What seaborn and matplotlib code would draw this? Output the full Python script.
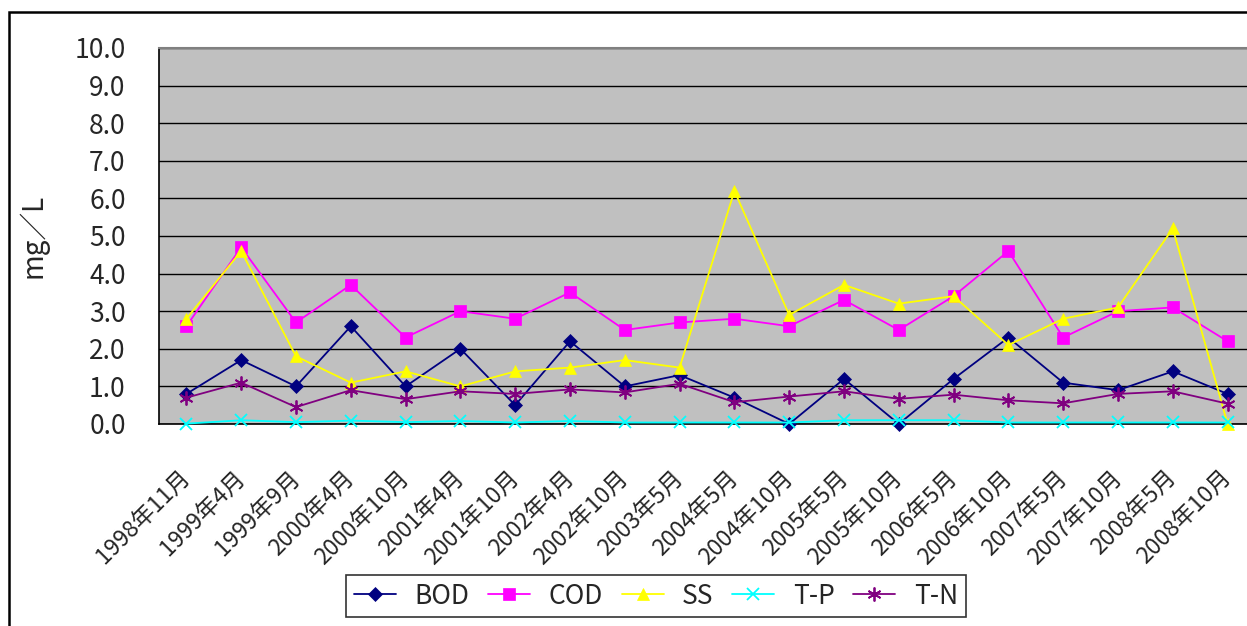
import numpy as np
import pandas as pd
import matplotlib
matplotlib.use("Agg")
import matplotlib.pyplot as plt
import matplotlib.transforms as mtransforms
import seaborn as sns
from matplotlib.patches import Rectangle

categories = ["1998年11月", "1999年4月", "1999年9月", "2000年4月", "2000年10月",
              "2001年4月", "2001年10月", "2002年4月", "2002年10月", "2003年5月",
              "2004年5月", "2004年10月", "2005年5月", "2005年10月", "2006年5月",
              "2006年10月", "2007年5月", "2007年10月", "2008年5月", "2008年10月"]

bod = [0.8, 1.7, 1.0, 2.6, 1.0, 2.0, 0.5, 2.2, 1.0, 1.3,
       0.7, 0.0, 1.2, 0.0, 1.2, 2.3, 1.1, 0.9, 1.4, 0.8]
cod = [2.6, 4.7, 2.7, 3.7, 2.3, 3.0, 2.8, 3.5, 2.5, 2.7,
       2.8, 2.6, 3.3, 2.5, 3.4, 4.6, 2.3, 3.0, 3.1, 2.2]
ss = [2.8, 4.6, 1.8, 1.1, 1.4, 1.0, 1.4, 1.5, 1.7, 1.5,
      6.2, 2.9, 3.7, 3.2, 3.4, 2.1, 2.8, 3.1, 5.2, 0.0]
tp = [0.01, 0.1, 0.05, 0.09, 0.05, 0.08, 0.04, 0.08, 0.04, 0.04,
      0.04, 0.04, 0.1, 0.1, 0.1, 0.04, 0.04, 0.04, 0.04, 0.04]
tn = [0.7, 1.1, 0.45, 0.9, 0.66, 0.87, 0.8, 0.92, 0.84, 1.07,
      0.58, 0.73, 0.87, 0.67, 0.78, 0.63, 0.55, 0.8, 0.87, 0.54]

series_names = ["BOD", "COD", "SS", "T-P", "T-N"]
series_values = [bod, cod, ss, tp, tn]
colors = ["#000080", "#FF00FF", "#FFFF00", "#00FFFF", "#800080"]
markers = ["D", "s", "^", "x", (6, 2, 0)]
msizes = [7, 9, 9, 9, 10]

sns.set_theme(style="white")
plt.rcParams['font.family'] = ['Noto Sans CJK JP', 'DejaVu Sans']

W, H = 1247, 626
fig = plt.figure(figsize=(W / 100, H / 100), dpi=100)
ax = fig.add_axes([159 / W, 1 - 424 / H, (1255 - 159) / W, (424 - 48) / H])
ax.set_facecolor("#C0C0C0")

x = np.arange(len(categories))
for name, vals, c, m, ms in zip(series_names, series_values, colors, markers, msizes):
    df = pd.DataFrame({"x": x, "y": vals})
    sns.lineplot(data=df, x="x", y="y", ax=ax, color=c, marker=m, markersize=ms,
                 markeredgecolor=c, markerfacecolor=c,
                 markeredgewidth=1.3 if m in ("x", (6, 2, 0)) else 0.5,
                 linewidth=1.3, label=name, clip_on=False, zorder=3)

ax.set_xlim(-0.5, len(categories) - 0.5)
ax.set_ylim(0, 10)
ax.set_yticks(np.arange(0, 11, 1))
ax.set_yticklabels([f"{v:.1f}" for v in np.arange(0, 11, 1)])
ax.grid(axis="y", color="#000000", linewidth=1.0, zorder=1)
ax.grid(axis="x", visible=False)
ax.set_axisbelow(True)

ax.set_xticks(x)
ax.set_xticklabels(categories, rotation=45, ha="right", va="center",
                   rotation_mode="anchor", fontsize=16.5)
offset = mtransforms.ScaledTranslation(-7 / 100, 3 / 100, fig.dpi_scale_trans)
for lbl in ax.get_xticklabels():
    lbl.set_transform(lbl.get_transform() + offset)
ax.set_xticks(np.arange(-0.5, len(categories), 1), minor=True)
ax.tick_params(axis="x", which="major", length=0, pad=36)
ax.tick_params(axis="x", which="minor", direction="in", length=6, width=1, color="black")
ax.tick_params(axis="y", which="major", direction="in", length=7, width=1,
               color="#404040", labelsize=19, pad=24)

for s in ["left", "bottom"]:
    ax.spines[s].set_color("black")
    ax.spines[s].set_linewidth(1.2)
ax.spines["top"].set_color("#808080")
ax.spines["top"].set_linewidth(1.5)
ax.spines["right"].set_visible(False)

ax.set_xlabel("")
ax.set_ylabel("mg／L", fontsize=20)
ax.yaxis.set_label_coords(-(159 - 48) / (1255 - 159), 0.5)

leg = ax.legend(loc="center", bbox_to_anchor=(656 / W, 1 - 596 / H),
                bbox_transform=fig.transFigure, ncol=5, frameon=True,
                fontsize=19, handlelength=1.6, columnspacing=0.7,
                handletextpad=0.7, borderpad=0.3, fancybox=False)
leg.get_frame().set_edgecolor("black")
leg.get_frame().set_linewidth(1.2)

fig.patches.append(Rectangle((9 / W, -0.1), 1.2, 1 - 12 / H + 0.1,
                             transform=fig.transFigure, fill=False,
                             edgecolor="black", linewidth=1.8))

fig.savefig("out.png", dpi=100)
